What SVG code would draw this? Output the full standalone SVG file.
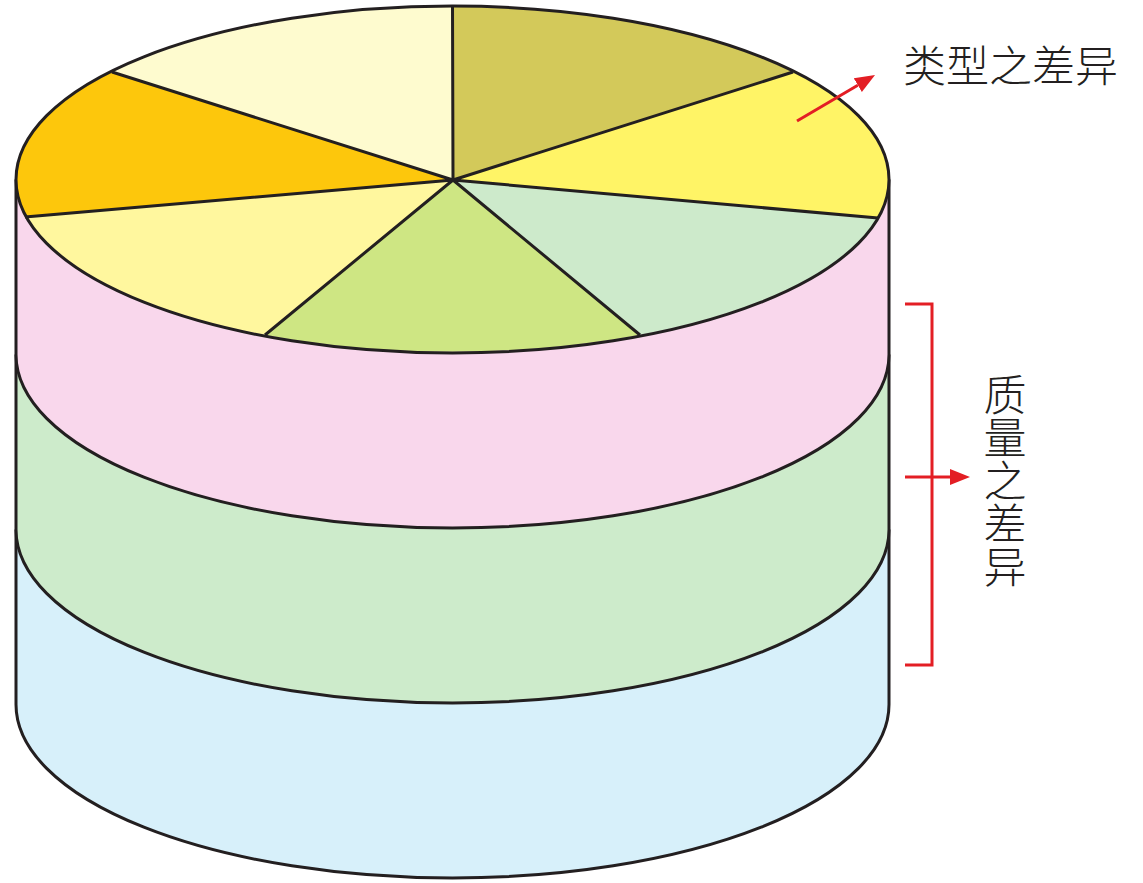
<svg xmlns="http://www.w3.org/2000/svg" width="1143" height="883" viewBox="0 0 1143 883">
<style>
.edge{fill:none;stroke:#231F20;stroke-width:3;stroke-linejoin:round}
.red{fill:none;stroke:#E31E24;stroke-width:3}
.lbl{font-family:"Noto Sans CJK SC","Noto Sans CJK JP",sans-serif;font-size:43px;font-weight:300;fill:#231F20}
</style>
<defs>
<marker id="ah" markerUnits="userSpaceOnUse" viewBox="0 -9 22 18" refX="0" refY="0" markerWidth="22" markerHeight="18" orient="auto">
<path d="M0,-8 L20,0 L0,8 Z" fill="#E31E24"/>
</marker>
</defs>
<rect width="1143" height="883" fill="#FFFFFF"/>
<g id="cylinder">
<g id="layer-blue">
<path d="M16,529.5 L16,704.5 A436.5,173.5 0 0 0 889,704.5 L889,529.5 Z" fill="#D7F0FA"/>
<path class="edge" d="M16,529.5 L16,704.5 A436.5,173.5 0 0 0 889,704.5 L889,529.5"/>
</g>
<g id="layer-green">
<path d="M16,354.5 L16,529.5 A436.5,173.5 0 0 0 889,529.5 L889,354.5 Z" fill="#CDEBCB"/>
<path class="edge" d="M16,354.5 L16,529.5 A436.5,173.5 0 0 0 889,529.5 L889,354.5"/>
</g>
<g id="layer-pink">
<path d="M16,179.5 L16,354.5 A436.5,173.5 0 0 0 889,354.5 L889,179.5 Z" fill="#F9D7EC"/>
<path class="edge" d="M16,179.5 L16,354.5 A436.5,173.5 0 0 0 889,354.5 L889,179.5"/>
</g>
<g id="top-pie">
<path d="M453,180 L452.5,6 A436.5,173.5 0 0 1 793,72 Z" fill="#D3C95A"/>
<path d="M453,180 L793,72 A436.5,173.5 0 0 1 878,218 Z" fill="#FFF466"/>
<path d="M453,180 L878,218 A436.5,173.5 0 0 1 640,335 Z" fill="#CDEACB"/>
<path d="M453,180 L640,335 A436.5,173.5 0 0 1 265,335 Z" fill="#CEE683"/>
<path d="M453,180 L265,335 A436.5,173.5 0 0 1 25,217 Z" fill="#FFF79E"/>
<path d="M453,180 L25,217 A436.5,173.5 0 0 1 112,72 Z" fill="#FDC70C"/>
<path d="M453,180 L112,72 A436.5,173.5 0 0 1 452.5,6 Z" fill="#FEFBCF"/>
<path class="edge" d="M452.5,6 L453,180 L793,72 M453,180 L878,218 M453,180 L640,335 M453,180 L265,335 M453,180 L25,217 M453,180 L112,72"/>
<ellipse class="edge" cx="452.5" cy="179.5" rx="436.5" ry="173.5"/>
</g>
</g>
<g id="connectors">
<line class="red" x1="797" y1="121" x2="857.8" y2="85.2" marker-end="url(#ah)"/>
<path class="red" d="M905,304 H932 V665 H905"/>
<line class="red" x1="905" y1="477" x2="950" y2="477" marker-end="url(#ah)"/>
</g>
<g id="label-type">
<text class="lbl" x="903" y="82">类型之差异</text>
</g>
<g id="label-quality">
<text class="lbl" x="1005" y="373" writing-mode="vertical-rl">质量之差异</text>
</g>
</svg>
